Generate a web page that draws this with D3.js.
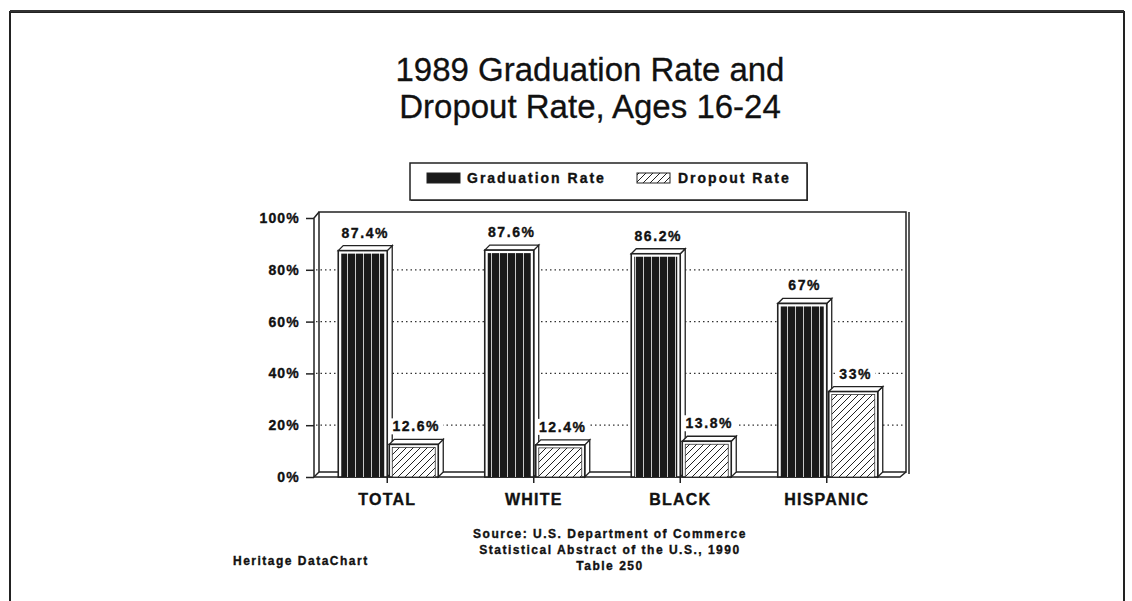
<!DOCTYPE html>
<html>
<head>
<meta charset="utf-8">
<script src="https://cdn.jsdelivr.net/npm/d3@7"></script>
<style>
  html, body { margin: 0; padding: 0; background: #ffffff; }
  svg { display: block; }
  .bold { font-family: "Liberation Sans", Arial, sans-serif; font-weight: bold; fill: #111; stroke: #111; stroke-width: 0.35px; }
</style>
</head>
<body>
<svg id="chart" width="1132" height="601"></svg>
<script>
// ---- data ----
const categories = ["TOTAL", "WHITE", "BLACK", "HISPANIC"];
const graduationRate = [87.4, 87.6, 86.2, 67];
const dropoutRate = [12.6, 12.4, 13.8, 33];
const graduationLabels = ["87.4%", "87.6%", "86.2%", "67%"];
const dropoutLabels = ["12.6%", "12.4%", "13.8%", "33%"];
const seriesNames = ["Graduation Rate", "Dropout Rate"];
const yTicks = [0, 20, 40, 60, 80, 100];
const gridTicks = [20, 40, 60, 80];
const titleLines = ["1989 Graduation Rate and", "Dropout Rate, Ages 16-24"];
const sourceLines = ["Source: U.S. Department of Commerce", "Statistical Abstract of the U.S., 1990", "Table 250"];
const creditText = "Heritage DataChart";

(function () {
// ---- layout ----
const svg = d3.select("#chart");
const W = 1132, H = 601;
const D = 5; // 3D depth offset
const pL = 314, pR = 900, pT = 218, pB = 477;

const x = d3.scaleBand().domain(categories).range([pL, pR]);
const xs = d3.scaleBand().domain(seriesNames).range([-49, 51]).paddingInner(0.04);
const y = d3.scaleLinear().domain([0, 100]).range([pB, pT]);

// patterns
const defs = svg.append("defs");
const vp = defs.append("pattern").attr("id", "vstripe").attr("patternUnits", "userSpaceOnUse")
  .attr("width", 8).attr("height", 10);
vp.append("rect").attr("width", 8).attr("height", 10).attr("fill", "#1a1a1a");
vp.append("rect").attr("x", 3).attr("width", 1).attr("height", 10).attr("fill", "#c8c8c8");
const hp = defs.append("pattern").attr("id", "hatch").attr("patternUnits", "userSpaceOnUse")
  .attr("width", 7).attr("height", 7);
hp.append("rect").attr("width", 7).attr("height", 7).attr("fill", "#fff");
hp.append("path").attr("d", "M-1,1 l2,-2 M0,7 l7,-7 M6,8 l2,-2")
  .attr("stroke", "#222").attr("stroke-width", 1);

// page frame
svg.append("rect").attr("width", W).attr("height", H).attr("fill", "#fff");
svg.append("path").attr("d", `M10,${H} L10,12 L1124,12 L1124,${H}`)
  .attr("fill", "none").attr("stroke", "#222").attr("stroke-width", 2);
svg.append("line").attr("x1", 10).attr("x2", 1124).attr("y1", 11).attr("y2", 11)
  .attr("stroke", "#333").attr("stroke-width", 2);

// title
svg.append("g").selectAll("text").data(titleLines).join("text")
  .attr("x", 590).attr("y", (d, i) => 81 + i * 37)
  .attr("text-anchor", "middle")
  .attr("font-family", "Liberation Sans, Arial, sans-serif")
  .attr("font-size", 33).attr("fill", "#111").attr("stroke", "#111").attr("stroke-width", 0.3)
  .text(d => d);

// legend
const lg = svg.append("g");
lg.append("rect").attr("x", 411).attr("y", 164).attr("width", 397).attr("height", 37).attr("fill", "#444");
lg.append("rect").attr("x", 410).attr("y", 163).attr("width", 397).attr("height", 37)
  .attr("fill", "#fff").attr("stroke", "#222").attr("stroke-width", 1.5);
const legendItems = [
  { name: seriesNames[0], sx: 427, tx: 467, fill: "#1a1a1a" },
  { name: seriesNames[1], sx: 637, tx: 678, fill: "url(#hatch)" }
];
legendItems.forEach(it => {
  lg.append("rect").attr("x", it.sx).attr("y", 173).attr("width", 33).attr("height", 10)
    .attr("fill", it.fill).attr("stroke", "#222").attr("stroke-width", 1);
  lg.append("text").attr("class", "bold").attr("x", it.tx).attr("y", 183)
    .attr("font-size", 14).attr("letter-spacing", 2).text(it.name);
});

// back wall & 3D frame
const frame = svg.append("g").attr("fill", "none").attr("stroke", "#222").attr("stroke-width", 1.5);
frame.append("rect").attr("x", pL + D).attr("y", pT - D - 1).attr("width", pR - pL + 1).attr("height", pB - pT + 1);
frame.append("path").attr("d", `M${pL},${y(0)} L${pL},${pT} L${pL + D},${pT - D - 1}`);
frame.append("path").attr("d", `M${pL},${y(0)} L${pR},${y(0)} L${pR + D + 1},${y(0) - D}`);
frame.append("path").attr("d", `M${pL},${y(0)} L${pL + D},${y(0) - D}`);
frame.append("line").attr("x1", pR + D + 4).attr("x2", pR + D + 4).attr("y1", pT - D - 1).attr("y2", y(0) - D + 2);

// gridlines
svg.append("g").selectAll("line").data(gridTicks).join("line")
  .attr("x1", pL + 2).attr("x2", pR + D)
  .attr("y1", d => y(d)).attr("y2", d => y(d))
  .attr("stroke", "#333").attr("stroke-width", 1.2).attr("stroke-dasharray", "1.5,3");

// bars
const barData = [];
categories.forEach((c, i) => {
  barData.push({ cat: c, series: seriesNames[0], value: graduationRate[i], label: graduationLabels[i] });
  barData.push({ cat: c, series: seriesNames[1], value: dropoutRate[i], label: dropoutLabels[i] });
});
const bars = svg.append("g").selectAll("g").data(barData).join("g");
bars.each(function (d) {
  const g = d3.select(this);
  const x0 = x(d.cat) + x.bandwidth() / 2 + xs(d.series);
  const w = xs.bandwidth();
  const x1 = x0 + w;
  const yt = y(d.value), yb = y(0);
  g.append("path").attr("d", `M${x1},${yt} L${x1 + D},${yt - D} L${x1 + D},${yb - D} L${x1},${yb} Z`)
    .attr("fill", "#fff").attr("stroke", "#222").attr("stroke-width", 1.3);
  g.append("path").attr("d", `M${x0},${yt} L${x0 + D},${yt - D} L${x1 + D},${yt - D} L${x1},${yt} Z`)
    .attr("fill", "#fff").attr("stroke", "#222").attr("stroke-width", 1.3);
  g.append("rect").attr("x", x0).attr("y", yt).attr("width", w).attr("height", yb - yt)
    .attr("fill", "#fff").attr("stroke", "#222").attr("stroke-width", 1.6);
  if (d.series === seriesNames[0]) {
    g.append("rect").attr("x", x0 + 3).attr("y", yt + 3).attr("width", w - 6).attr("height", yb - yt - 3)
      .attr("fill", "url(#vstripe)");
  } else {
    g.append("rect").attr("x", x0 + 3).attr("y", yt + 3).attr("width", w - 6).attr("height", yb - yt - 3)
      .attr("fill", "url(#hatch)").attr("stroke", "#333").attr("stroke-width", 0.8);
  }
  const cx = x0 + w / 2 + D / 2;
  const ly = yt - D - 8;
  const t = g.append("text").attr("class", "bold").attr("x", cx).attr("y", ly)
    .attr("text-anchor", "middle").attr("font-size", 14).attr("letter-spacing", 1.6).text(d.label);
  const bb = t.node().getBBox();
  g.insert("rect", "text").attr("x", bb.x - 3).attr("y", bb.y).attr("width", bb.width + 6).attr("height", bb.height)
    .attr("fill", "#fff");
});

// y axis
const yAxis = svg.append("g").attr("transform", `translate(${pL},0)`)
  .call(d3.axisLeft(y).tickValues(yTicks).tickFormat(d => d + "%").tickSize(8).tickPadding(6));
yAxis.select(".domain").remove();
yAxis.selectAll("line").attr("stroke", "#222").attr("stroke-width", 1.5);
yAxis.selectAll("text").attr("class", "bold").attr("font-size", 14).attr("letter-spacing", 1.2);
yAxis.attr("font-family", null);

// x axis
const xAxis = svg.append("g").attr("transform", `translate(0,${pB})`)
  .call(d3.axisBottom(x).tickSize(6).tickPadding(11));
xAxis.select(".domain").remove();
xAxis.selectAll("line").attr("stroke", "#222").attr("stroke-width", 1.5);
xAxis.selectAll("text").attr("class", "bold").attr("font-size", 16).attr("letter-spacing", 1.2);
xAxis.attr("font-family", null);

// source & credit
svg.append("g").selectAll("text").data(sourceLines).join("text")
  .attr("class", "bold").attr("x", 610).attr("y", (d, i) => 538 + i * 16)
  .attr("text-anchor", "middle").attr("font-size", 12).attr("letter-spacing", 1.5).text(d => d);
svg.append("text").attr("class", "bold").attr("x", 233).attr("y", 565)
  .attr("font-size", 12).attr("letter-spacing", 1.5).text(creditText);
})();
</script>
</body>
</html>
